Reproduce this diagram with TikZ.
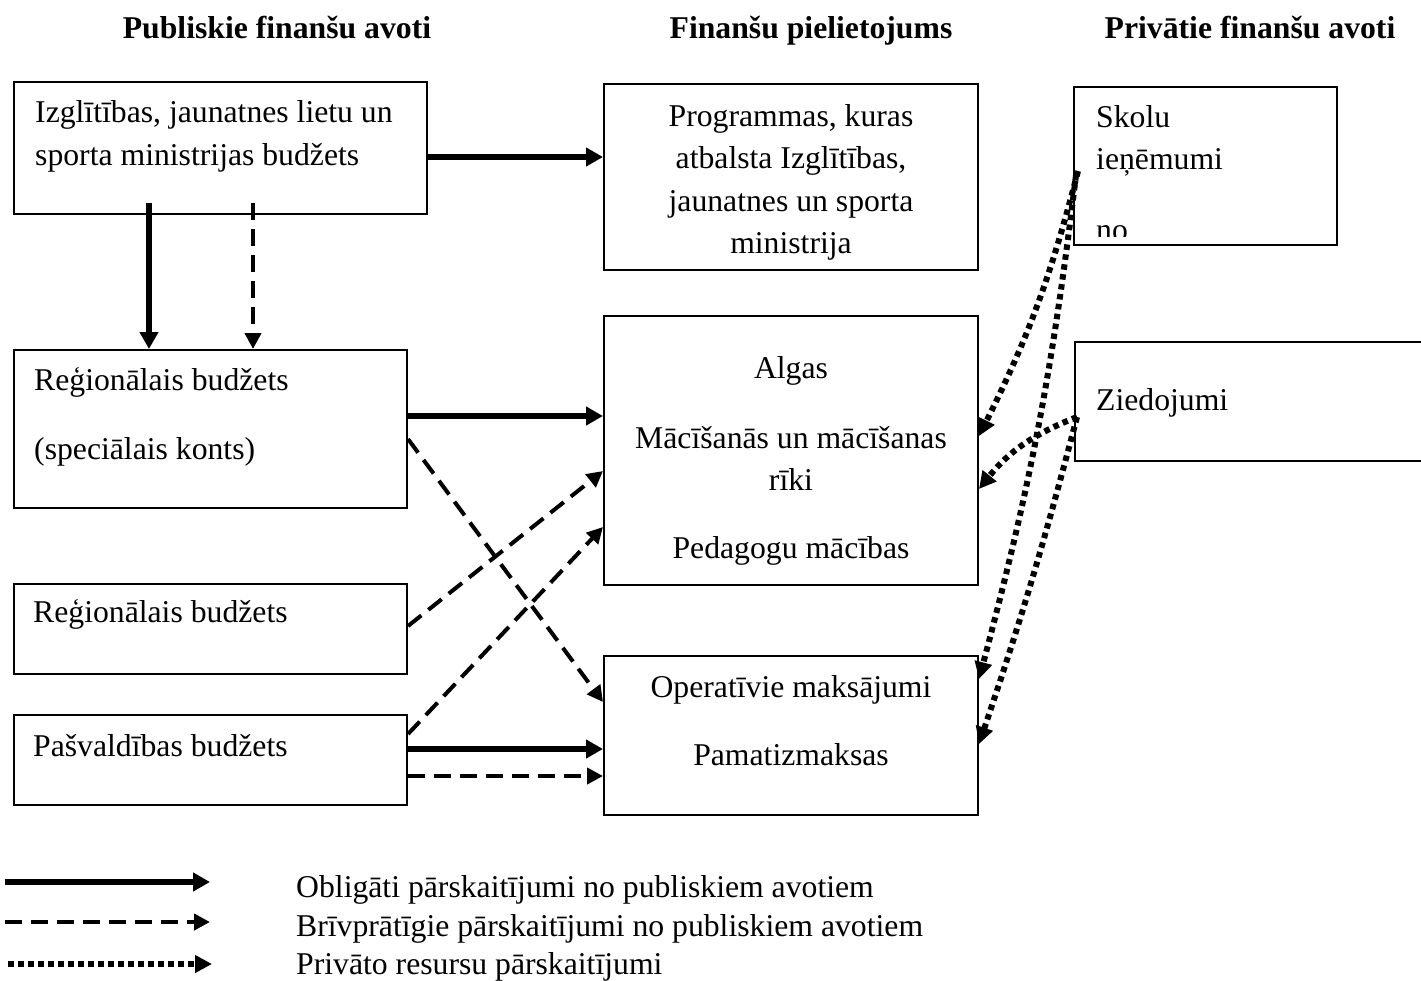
\documentclass[tikz,border=0pt]{standalone}
\usepackage{fontspec}
\setmainfont{Liberation Serif}
\usetikzlibrary{arrows.meta,calc}
\begin{document}
\begin{tikzpicture}[x=1pt,y=-1pt,
 box/.style={draw,line width=2pt,rectangle,inner sep=0pt},
 txt/.style={font=\fontsize{31.7}{40}\selectfont,inner sep=0pt,anchor=base west},
 ctxt/.style={font=\fontsize{31.7}{40}\selectfont,inner sep=0pt,anchor=base},
 head/.style={font=\fontsize{31.7}{40}\selectfont\bfseries,inner sep=0pt,anchor=base},
 oblig/.style={line width=6pt,-{Triangle[length=17pt,width=18pt]}},
 vol/.style={line width=4pt,dash pattern=on 17pt off 9pt,-{Triangle[length=16pt,width=16pt]}},
 priv/.style={line width=6pt,dash pattern=on 5.5pt off 4.5pt,-{Triangle[length=17pt,width=17pt]}},
]
\useasboundingbox (0,0) rectangle (1421,980);
% headings
\node[head] (h1) at (277,38) {Publiskie finanšu avoti};
\node[head] (h2) at (811,38) {Finanšu pielietojums};
\node[head] (h3) at (1250,38) {Privātie finanšu avoti};
% boxes
\node[box,minimum width=413pt,minimum height=132pt] (b1) at (220.5,148) {};
\node[box,minimum width=374pt,minimum height=186pt] (b2) at (791,177) {};
\node[box,minimum width=263pt,minimum height=158pt] (b3) at (1205.5,166) {};
\node[box,minimum width=393pt,minimum height=158pt] (b4) at (210.5,429) {};
\node[box,minimum width=374pt,minimum height=269pt] (b5) at (791,450.5) {};
\node[box,minimum width=365pt,minimum height=119pt] (b6) at (1257.5,401.5) {};
\node[box,minimum width=393pt,minimum height=90pt] (b7) at (210.5,629) {};
\node[box,minimum width=393pt,minimum height=90pt] (b8) at (210.5,760) {};
\node[box,minimum width=374pt,minimum height=159pt] (b9) at (791,735.5) {};
% texts
\node[txt] (t1a) at (35,122) {Izglītības, jaunatnes lietu un};
\node[txt] (t1b) at (35,165) {sporta ministrijas budžets};
\node[ctxt] (t2a) at (791,126) {Programmas, kuras};
\node[ctxt] (t2b) at (791,168) {atbalsta Izglītības,};
\node[ctxt] (t2c) at (791,211) {jaunatnes un sporta};
\node[ctxt] (t2d) at (791,253) {ministrija};
\node[txt] (t3a) at (1096,127) {Skolu};
\node[txt] (t3b) at (1096,169) {ieņēmumi};
\begin{scope}
\clip ($(b3.south west)+(0,-10)$) rectangle (b3.north east);
\node[txt] (t3c) at (1096,240) {no};
\end{scope}
\node[txt] (t4a) at (34,390) {Reģionālais budžets};
\node[txt] (t4b) at (34,459) {(speciālais konts)};
\node[ctxt] (t5a) at (791,378) {Algas};
\node[ctxt] (t5b) at (791,448) {Mācīšanās un mācīšanas};
\node[ctxt] (t5c) at (791,490) {rīki};
\node[ctxt] (t5d) at (791,558) {Pedagogu mācības};
\node[txt] (t6a) at (1096,410) {Ziedojumi};
\node[txt] (t7a) at (33,622) {Reģionālais budžets};
\node[txt] (t8a) at (33,756) {Pašvaldības budžets};
\node[ctxt] (t9a) at (791,697) {Operatīvie maksājumi};
\node[ctxt] (t9b) at (791,765) {Pamatizmaksas};
% connectors
\draw[oblig] ($(b1.north east)+(0,76)$) -- ($(b2.north west)+(0,74)$);
\draw[oblig] ($(b1.south west)+(136,-12)$) -- ($(b4.north west)+(136,0)$);
\draw[vol] ($(b1.south west)+(240,-12)$) -- ($(b4.north west)+(240,0)$);
\draw[oblig] ($(b4.north east)+(0,67)$) -- ($(b5.north west)+(0,101)$);
\draw[vol] ($(b4.north east)+(0,90)$) -- ($(b9.north west)+(0,47)$);
\draw[vol] ($(b7.north east)+(0,43)$) -- ($(b5.north west)+(0,156)$);
\draw[vol] ($(b8.north east)+(0,20)$) -- ($(b5.north west)+(0,212)$);
\draw[oblig] ($(b8.north east)+(0,35)$) -- ($(b9.north west)+(0,94)$);
\draw[vol] ($(b8.north east)+(0,62)$) -- ($(b9.north west)+(0,121)$);
\draw[priv] ($(b3.north west)+(5,85)$) to[bend left=6] ($(b5.north east)+(0,121)$);
\draw[priv] ($(b3.north west)+(3,89)$) to[bend left=4] ($(b9.north east)+(0,24)$);
\draw[priv] ($(b6.north west)+(3,76)$) to[bend right=15] ($(b5.north east)+(0,174)$);
\draw[priv] ($(b6.north west)+(3,76)$) to[bend left=2] ($(b9.north east)+(0,89)$);
% legend
\coordinate (l1a) at (5,882); \coordinate (l1b) at (210,882);
\coordinate (l2a) at (5,922); \coordinate (l2b) at (210,922);
\coordinate (l3a) at (8,964); \coordinate (l3b) at (212,964);
\draw[oblig] (l1a) -- (l1b);
\draw[vol] (l2a) -- (l2b);
\draw[priv] (l3a) -- (l3b);
\node[txt] (lt1) at (296,897) {Obligāti pārskaitījumi no publiskiem avotiem};
\node[txt] (lt2) at (296,936) {Brīvprātīgie pārskaitījumi no publiskiem avotiem};
\node[txt] (lt3) at (296,974) {Privāto resursu pārskaitījumi};
\end{tikzpicture}
\end{document}
